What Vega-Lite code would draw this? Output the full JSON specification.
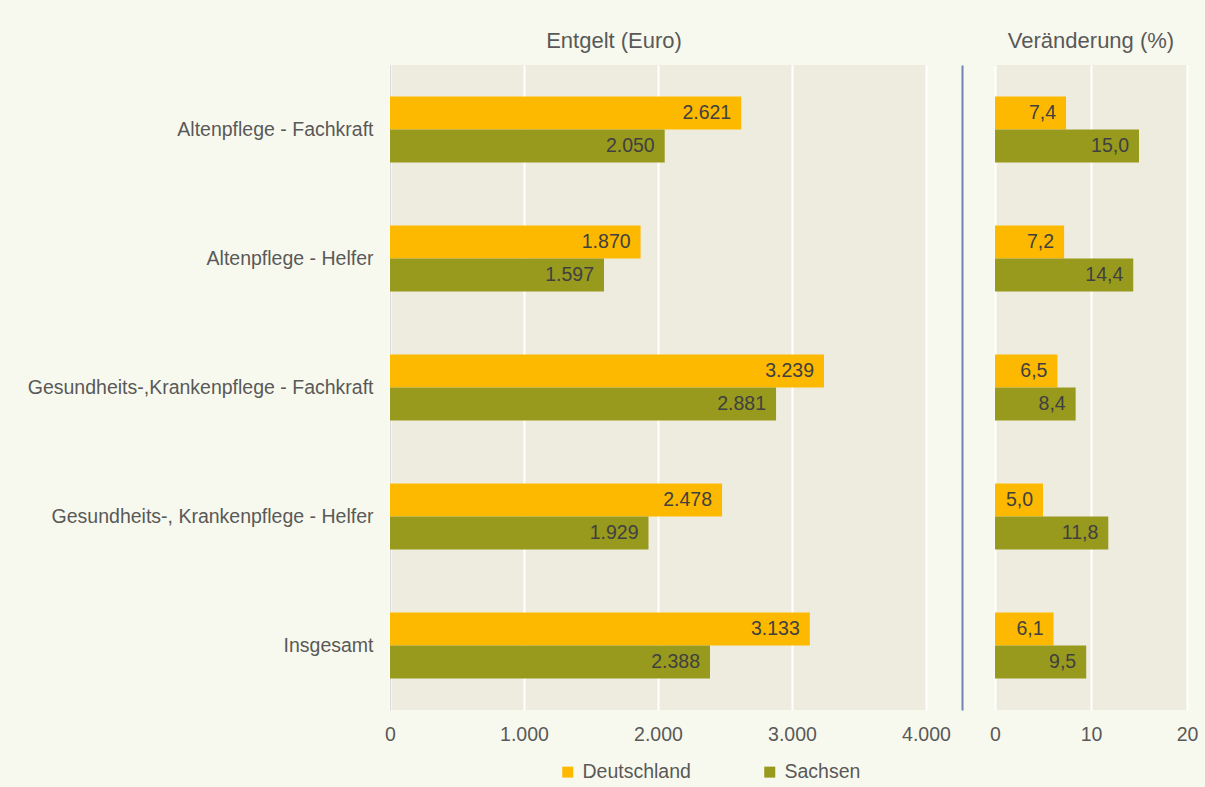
{
  "$schema": "https://vega.github.io/schema/vega-lite/v6.json",
  "background": "#F8F9EE",
  "padding": {"left": 27, "top": 30, "right": 18, "bottom": 8},
  "config": {
    "locale": {"number": {"decimal": ",", "thousands": ".", "grouping": [3], "currency": ["", " €"]}},
    "font": "Liberation Sans",
    "view": {"fill": "#EEECDE", "stroke": null},
    "axis": {"labelColor": "#595959", "labelFontSize": 19.5, "ticks": false, "domain": false, "gridColor": "#FFFFFF", "gridWidth": 2, "title": null, "labelFlush": false},
    "title": {"fontSize": 22, "fontWeight": "normal", "color": "#595959", "offset": 12}
  },
  "bounds": "flush",
  "spacing": 69,
  "data": {"values": [
    {"kategorie": "Altenpflege - Fachkraft", "region": "Deutschland", "entgelt": 2621, "veraenderung": 7.4},
    {"kategorie": "Altenpflege - Fachkraft", "region": "Sachsen", "entgelt": 2050, "veraenderung": 15.0},
    {"kategorie": "Altenpflege - Helfer", "region": "Deutschland", "entgelt": 1870, "veraenderung": 7.2},
    {"kategorie": "Altenpflege - Helfer", "region": "Sachsen", "entgelt": 1597, "veraenderung": 14.4},
    {"kategorie": "Gesundheits-,Krankenpflege - Fachkraft", "region": "Deutschland", "entgelt": 3239, "veraenderung": 6.5},
    {"kategorie": "Gesundheits-,Krankenpflege - Fachkraft", "region": "Sachsen", "entgelt": 2881, "veraenderung": 8.4},
    {"kategorie": "Gesundheits-, Krankenpflege - Helfer", "region": "Deutschland", "entgelt": 2478, "veraenderung": 5.0},
    {"kategorie": "Gesundheits-, Krankenpflege - Helfer", "region": "Sachsen", "entgelt": 1929, "veraenderung": 11.8},
    {"kategorie": "Insgesamt", "region": "Deutschland", "entgelt": 3133, "veraenderung": 6.1},
    {"kategorie": "Insgesamt", "region": "Sachsen", "entgelt": 2388, "veraenderung": 9.5}
  ]},
  "resolve": {"legend": {"color": "independent"}},
  "hconcat": [
    {
      "width": 536,
      "height": 645,
      "title": {"text": "Entgelt (Euro)", "dx": -44},
      "encoding": {
        "y": {"field": "kategorie", "type": "nominal", "sort": ["Altenpflege - Fachkraft", "Altenpflege - Helfer", "Gesundheits-,Krankenpflege - Fachkraft", "Gesundheits-, Krankenpflege - Helfer", "Insgesamt"], "scale": {"paddingInner": 0.488, "paddingOuter": 0.244}, "axis": {"labelPadding": 17, "domain": true, "domainColor": "#D9D9D9", "domainWidth": 1, "labelLimit": 400, "grid": false}},
        "yOffset": {"field": "region", "type": "nominal", "sort": ["Deutschland", "Sachsen"], "scale": {"paddingInner": 0, "paddingOuter": 0}},
        "x": {"field": "entgelt", "type": "quantitative", "scale": {"domain": [0, 4000], "nice": false}, "axis": {"values": [0, 1000, 2000, 3000, 4000], "format": ",.0f", "labelPadding": 15, "grid": true}}
      },
      "layer": [
        {"mark": {"type": "bar"}, "encoding": {"color": {"field": "region", "type": "nominal", "scale": {"domain": ["Deutschland", "Sachsen"], "range": ["#FDB900", "#989A1E"]}, "legend": {"title": null, "orient": "none", "legendX": 168, "legendY": 697, "direction": "horizontal", "symbolType": "square", "symbolSize": 121, "symbolStrokeWidth": 0, "labelFontSize": 19.5, "labelColor": "#595959", "columnPadding": 69, "labelOffset": 5, "padding": 0}}}},
        {"mark": {"type": "text", "align": "right", "dx": -10, "baseline": "middle", "fontSize": 19.5, "color": "#404040"}, "encoding": {"text": {"field": "entgelt", "type": "quantitative", "format": ",.0f"}}}
      ]
    },
    {
      "width": 192,
      "height": 645,
      "title": {"text": "Veränderung (%)"},
      "encoding": {
        "y": {"field": "kategorie", "type": "nominal", "sort": ["Altenpflege - Fachkraft", "Altenpflege - Helfer", "Gesundheits-,Krankenpflege - Fachkraft", "Gesundheits-, Krankenpflege - Helfer", "Insgesamt"], "scale": {"paddingInner": 0.488, "paddingOuter": 0.244}, "axis": {"labels": false, "domain": true, "domainColor": "#6F84B0", "domainWidth": 2, "offset": 33, "grid": false}},
        "yOffset": {"field": "region", "type": "nominal", "sort": ["Deutschland", "Sachsen"], "scale": {"paddingInner": 0, "paddingOuter": 0}},
        "x": {"field": "veraenderung", "type": "quantitative", "scale": {"domain": [0, 20], "nice": false}, "axis": {"values": [0, 10, 20], "format": "d", "labelPadding": 15, "grid": true}}
      },
      "layer": [
        {"mark": {"type": "bar"}, "encoding": {"color": {"field": "region", "type": "nominal", "scale": {"domain": ["Deutschland", "Sachsen"], "range": ["#FDB900", "#989A1E"]}, "legend": null}}},
        {"mark": {"type": "text", "align": "right", "dx": -10, "baseline": "middle", "fontSize": 19.5, "color": "#404040"}, "encoding": {"text": {"field": "veraenderung", "type": "quantitative", "format": ".1f"}}}
      ]
    }
  ]
}
